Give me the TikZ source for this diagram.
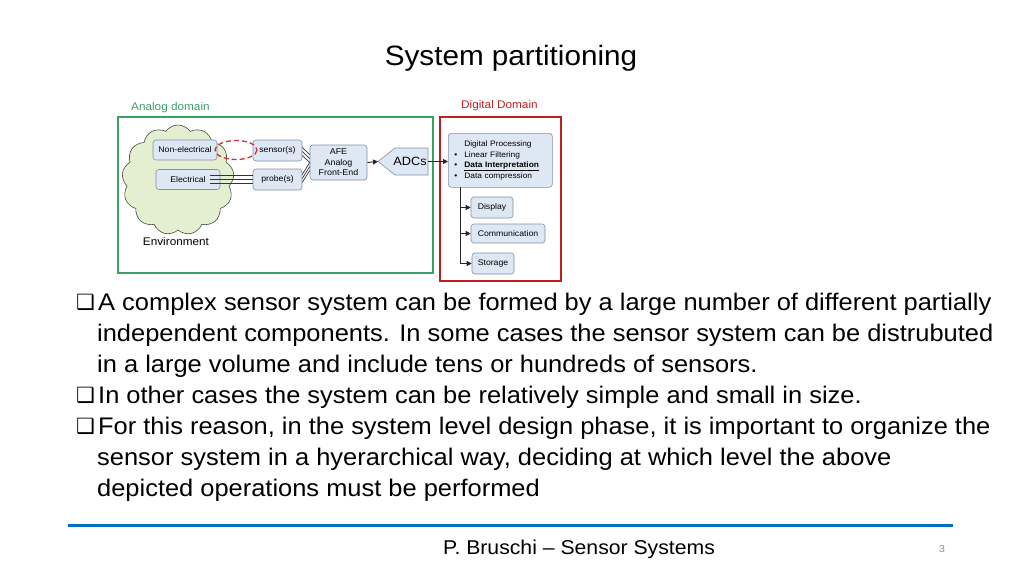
\documentclass[tikz,border=0pt]{standalone}
\usepackage{fontspec}
\setmainfont{Liberation Sans}[FakeStretch=1.06]
\newfontfamily\symfont{DejaVu Sans}
\usetikzlibrary{shapes.symbols,shapes.geometric,arrows.meta}
\definecolor{agreen}{RGB}{58,160,100}
\definecolor{dred}{RGB}{192,30,35}
\definecolor{boxfill}{RGB}{221,232,244}
\definecolor{boxdraw}{RGB}{128,145,165}
\definecolor{cloudfill}{RGB}{228,238,208}
\definecolor{cloudline}{RGB}{70,80,60}
\definecolor{footblue}{RGB}{0,112,192}
\tikzset{
  blk/.style={draw=boxdraw, fill=boxfill, rounded corners=3, line width=0.6, font=\fontsize{8.2}{10}\selectfont, inner sep=1, align=center},
  body/.style={anchor=base west, inner sep=0, font=\fontsize{24}{28}\selectfont},
  bul/.style={anchor=base west, inner sep=0, font=\symfont\fontsize{21}{24}\selectfont},
  lbl/.style={font=\fontsize{11.1}{13}\selectfont, inner sep=0},
  wire/.style={line width=0.7, black!80},
  arr/.style={line width=0.9, black!85, -{Triangle[length=5,width=5]}}
}
\begin{document}
\begin{tikzpicture}[x=1pt,y=-1pt]
\useasboundingbox (0,0) rectangle (1024,576);
\fill[white] (0,0) rectangle (1024,576);
% title
\node[font=\fontsize{28}{31}\selectfont, inner sep=0] (title) at (511,58) {System partitioning};
% domains
\node[lbl, text=agreen, anchor=west] (alab) at (131,108) {Analog domain};
\draw[agreen, line width=1.3] (118,117) rectangle (433,273);
\node[lbl, text=dred, anchor=west] (dlab) at (461,106) {Digital Domain};
\draw[dred, line width=1.3] (440,117) rectangle (561,281);
% cloud
\node[cloud, cloud puffs=13, cloud puff arc=110, aspect=1.0, minimum width=112, minimum height=110, fill=cloudfill, draw=cloudline, line width=0.6] (cloud) at (178,180) {};
\node[lbl] (env) at (176,242) {Environment};
% blocks
\node[blk, minimum width=64, minimum height=20] (nonel) at (185,150) {Non-electrical};
\node[blk, minimum width=64, minimum height=20] (elec) at (188,179.5) {Electrical};
\node[blk, minimum width=49, minimum height=21] (sens) at (277.5,150.5) {sensor(s)};
\node[blk, minimum width=49, minimum height=21] (probe) at (277.5,179.5) {probe(s)};
\node[blk, minimum width=57, minimum height=35, font=\fontsize{8.4}{10.5}\selectfont] (afe) at (338.5,162.5) {AFE\\Analog\\Front-End};
\fill[boxfill, draw=boxdraw, line width=0.6] (378,161.5) -- (395,148) -- (428,148) -- (428,175) -- (395,175) -- cycle;
\node[font=\fontsize{12}{14}\selectfont, inner sep=0] (adc) at (410,161.5) {ADCs};
\coordinate (adctip) at (378,161.5);
\coordinate (adcright) at (428,161.5);
% triple wires
\foreach \d in {-4,0,4} {
  \draw[wire] ([yshift=\d]elec.east) ++(-10,0) -- ([yshift=\d]probe.west);
  \draw[wire] ([yshift=\d-1]sens.east) -- ([yshift=\d+4]afe.west);
  \draw[wire] ([yshift=\d+1]probe.east) -- ([yshift=\d-4]afe.west);
}
% dashed ellipse
\draw[dred!90!white, line width=1.3, dash pattern=on 5pt off 3pt] (236,150) ellipse (21 and 9.5);
% arrows
\draw[arr] (afe.east) -- (adctip);
% digital part
\node[blk, anchor=north west, minimum width=104, minimum height=54, align=left, text width=92, inner sep=4, font=\fontsize{7.9}{10.5}\selectfont] (dp) at (448,133) {%
\hspace*{10pt}Digital Processing\\
\makebox[10pt][l]{\textbullet}Linear Filtering\\
\makebox[10pt][l]{\textbullet}\underline{\textbf{Data Interpretation}}\\
\makebox[10pt][l]{\textbullet}Data compression};
\draw[arr] (adcright) -- (adcright -| dp.west);
\node[blk, minimum width=42, minimum height=21] (disp) at (492,207.5) {Display};
\node[blk, minimum width=74, minimum height=19] (comm) at (508,233.5) {Communication};
\node[blk, minimum width=42, minimum height=21] (stor) at (493,263.5) {Storage};
\coordinate (trunk) at (460,187);
\draw[line width=0.9, black!85] (trunk) -- (trunk |- stor.west);
\draw[arr] (trunk |- disp.west) -- (disp.west);
\draw[arr] (trunk |- comm.west) -- (comm.west);
\draw[arr] (trunk |- stor.west) -- (stor.west);
% body text
\node[bul] (b1) at (76,309) {❑};
\node[body] (l1) at (98,310) {A complex sensor system can be formed by a large number of different partially};
\node[body] (l2) at (97,341) {independent components. In some cases the sensor system can be distrubuted};
\node[body] (l3) at (97,372) {in a large volume and include tens or hundreds of sensors.};
\node[bul] (b2) at (76,402) {❑};
\node[body] (l4) at (98,403) {In other cases the system can be relatively simple and small in size.};
\node[bul] (b3) at (76,433) {❑};
\node[body] (l5) at (98,434) {For this reason, in the system level design phase, it is important to organize the};
\node[body] (l6) at (97,465) {sensor system in a hyerarchical way, deciding at which level the above};
\node[body] (l7) at (97,496) {depicted operations must be performed};
% footer
\draw[footblue, line width=3] (68,525) -- (953,525);
\node[font=\fontsize{20}{22}\selectfont, inner sep=0] (foot) at (579,549) {P. Bruschi -- Sensor Systems};
\node[font=\fontsize{10}{12}\selectfont, text=black!45, inner sep=0] (pg) at (942,549) {3};
\end{tikzpicture}
\end{document}
